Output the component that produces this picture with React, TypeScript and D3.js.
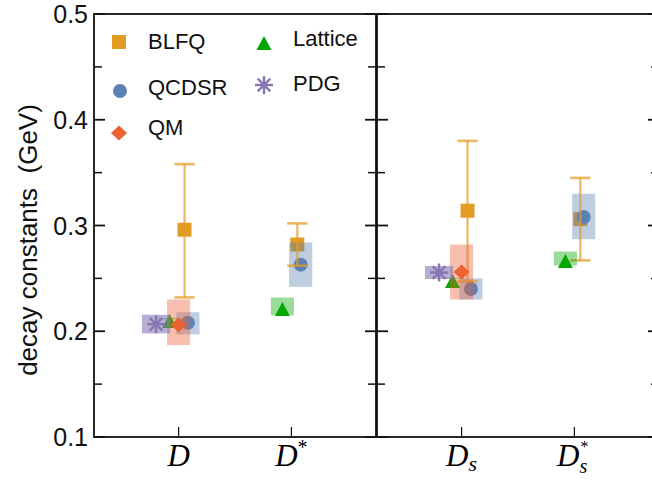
import React from "react";
import * as d3 from "d3";

// Meson categories, split over two panels
const categories = ["D", "D*", "Ds", "Ds*"];
const panelOf = [0, 0, 1, 1];
const slotOf = [0.3, 0.7, 0.3, 0.7];

// BLFQ: central value with error bars
const blfqValues = [0.296, 0.282, 0.314, 0.306];
const blfqLower = [0.232, 0.262, 0.247, 0.267];
const blfqUpper = [0.358, 0.302, 0.38, 0.345];

// QCD sum rules: value with uncertainty band
const qcdsrValues = [0.208, 0.263, 0.24, 0.308];
const qcdsrLower = [0.197, 0.242, 0.23, 0.287];
const qcdsrUpper = [0.218, 0.284, 0.25, 0.33];

// Quark model
const qmValues: (number | null)[] = [0.206, null, 0.256, null];
const qmLower: (number | null)[] = [0.187, null, 0.23, null];
const qmUpper: (number | null)[] = [0.23, null, 0.282, null];

// Lattice QCD
const latticeValues = [0.212, 0.2235, 0.2499, 0.2688];
const latticeLower = [0.2113, 0.2151, 0.2494, 0.2622];
const latticeUpper = [0.2127, 0.2319, 0.2504, 0.2754];

// PDG
const pdgValues: (number | null)[] = [0.2067, null, 0.2555, null];
const pdgLower: (number | null)[] = [0.198, null, 0.2494, null];
const pdgUpper: (number | null)[] = [0.2156, null, 0.2617, null];

const yTicks = [0.1, 0.2, 0.3, 0.4, 0.5];
const yMinorTicks = [0.15, 0.25, 0.35, 0.45];

const W = 652;
const H = 480;
const TOP = 14;
const BOTTOM = 437;
const PANEL_W = 282;
const panelX = [94, 377];

const colors = {
  blfq: "#E19C24",
  qcdsr: "#5E81B5",
  qm: "#EB6235",
  lattice: "#00A800",
  pdg: "#8778B3",
};

const y = d3.scaleLinear().domain([0.1, 0.5]).range([BOTTOM, TOP]);
const panelScales = panelX.map((x0) =>
  d3.scaleLinear().domain([0, 1]).range([x0, x0 + PANEL_W])
);
const xAt = (i: number, offset: number) =>
  panelScales[panelOf[i]](slotOf[i] + offset);
const unit = (u: number) => u * PANEL_W;

const OFF = { pdg: -0.08, lattice: -0.032, qm: 0, blfq: 0.021, qcdsr: 0.033 };
const BOX_W = 0.082;
const PDG_BOX_W = 0.1;
const CAP_W = 0.072;

const sans = "'Liberation Sans', Arial, Helvetica, sans-serif";
const serif = "'Liberation Serif', 'Times New Roman', serif";

function Square({ cx, cy, s = 14 }: { cx: number; cy: number; s?: number }) {
  return <rect x={cx - s / 2} y={cy - s / 2} width={s} height={s} fill={colors.blfq} />;
}
function Circle({ cx, cy }: { cx: number; cy: number }) {
  return <circle cx={cx} cy={cy} r={7} fill={colors.qcdsr} />;
}
function Diamond({ cx, cy }: { cx: number; cy: number }) {
  const p = d3.path();
  p.moveTo(cx, cy - 7.5);
  p.lineTo(cx + 8, cy);
  p.lineTo(cx, cy + 7.5);
  p.lineTo(cx - 8, cy);
  p.closePath();
  return <path d={p.toString()} fill={colors.qm} />;
}
function Triangle({ cx, cy }: { cx: number; cy: number }) {
  const c = cy + 2.5;
  const p = d3.path();
  p.moveTo(cx, c - 7);
  p.lineTo(cx + 7.5, c + 7);
  p.lineTo(cx - 7.5, c + 7);
  p.closePath();
  return <path d={p.toString()} fill={colors.lattice} />;
}
function Star({ cx, cy }: { cx: number; cy: number }) {
  const p = d3.path();
  const r = 9;
  for (let k = 0; k < 4; k++) {
    const a = (k * Math.PI) / 4;
    p.moveTo(cx + r * Math.sin(a), cy - r * Math.cos(a));
    p.lineTo(cx - r * Math.sin(a), cy + r * Math.cos(a));
  }
  return (
    <path d={p.toString()} stroke={colors.pdg} strokeWidth={2.4} fill="none" strokeLinecap="butt" />
  );
}

function Band({
  i, off, lo, hi, color, w = BOX_W, opacity = 0.4,
}: { i: number; off: number; lo: number; hi: number; color: string; w?: number; opacity?: number }) {
  const cx = xAt(i, off);
  const bw = unit(w);
  return (
    <rect x={cx - bw / 2} y={y(hi)} width={bw} height={Math.max(1, y(lo) - y(hi))} fill={color} fillOpacity={opacity} />
  );
}

function CategoryLabel({ i }: { i: number }) {
  const x = xAt(i, 0);
  const name = categories[i];
  const base = 466;
  if (name === "D") {
    return <text x={x} y={base} textAnchor="middle" fontFamily={serif} fontStyle="italic" fontSize={31}>D</text>;
  }
  if (name === "D*") {
    return (
      <text x={x} y={base} textAnchor="middle" fontFamily={serif} fontStyle="italic" fontSize={31}>
        D<tspan fontSize={20} dy={-12} fontStyle="normal">*</tspan>
      </text>
    );
  }
  if (name === "Ds") {
    return (
      <text x={x} y={base} textAnchor="middle" fontFamily={serif} fontStyle="italic" fontSize={31}>
        D<tspan fontSize={22} dy={5}>s</tspan>
      </text>
    );
  }
  // D_s^*: subscript s and superscript star stacked after the D
  return (
    <g fontFamily={serif} fontStyle="italic">
      <text x={x + 5} y={base} textAnchor="end" fontSize={31}>D</text>
      <text x={x + 5} y={base + 7} fontSize={20}>s</text>
      <text x={x + 6} y={base - 14} fontSize={16} fontStyle="normal">*</text>
    </g>
  );
}

function Frame({ p }: { p: number }) {
  const x0 = panelX[p];
  const x1 = x0 + PANEL_W;
  const cats = categories.map((_, i) => i).filter((i) => panelOf[i] === p);
  return (
    <g>
      <rect x={x0} y={TOP} width={PANEL_W} height={BOTTOM - TOP} fill="none" stroke="#111" strokeWidth={1.8} />
      {yTicks.map((t) => (
        <g key={"M" + t}>
          <line x1={x0} x2={x0 + 11} y1={y(t)} y2={y(t)} stroke="#111" strokeWidth={1.8} />
          <line x1={x1} x2={x1 - 11} y1={y(t)} y2={y(t)} stroke="#111" strokeWidth={1.8} />
        </g>
      ))}
      {yMinorTicks.map((t) => (
        <g key={"m" + t}>
          <line x1={x0} x2={x0 + 8} y1={y(t)} y2={y(t)} stroke="#111" strokeWidth={1.5} />
          <line x1={x1} x2={x1 - 8} y1={y(t)} y2={y(t)} stroke="#111" strokeWidth={1.5} />
        </g>
      ))}
      {cats.map((i) => (
        <line key={i} x1={xAt(i, 0)} x2={xAt(i, 0)} y1={BOTTOM} y2={BOTTOM - 10} stroke="#111" strokeWidth={1.2} />
      ))}
    </g>
  );
}

export default function App() {
  const idx = categories.map((_, i) => i);
  return (
    <svg width={W} height={H} viewBox={`0 0 ${W} ${H}`} style={{ position: "absolute", left: 0, top: 0, background: "#fff" }}>
      <rect width={W} height={H} fill="#fff" />

      {/* BLFQ squares */}
      {idx.map((i) => (
        <Square key={"bs" + i} cx={xAt(i, OFF.blfq)} cy={y(blfqValues[i])} />
      ))}

      {/* QCDSR bands and points */}
      {idx.map((i) => (
        <Band key={"qb" + i} i={i} off={OFF.qcdsr} lo={qcdsrLower[i]} hi={qcdsrUpper[i]} color={colors.qcdsr} />
      ))}
      {idx.map((i) => (
        <Circle key={"qc" + i} cx={xAt(i, OFF.qcdsr)} cy={y(qcdsrValues[i])} />
      ))}

      {/* BLFQ error bars */}
      {idx.map((i) => {
        const cx = xAt(i, OFF.blfq);
        const cw = unit(CAP_W) / 2;
        return (
          <g key={"be" + i} stroke={colors.blfq} strokeOpacity={0.72} strokeWidth={2.2}>
            <line x1={cx} x2={cx} y1={y(blfqUpper[i])} y2={y(blfqLower[i])} />
            <line x1={cx - cw} x2={cx + cw} y1={y(blfqUpper[i])} y2={y(blfqUpper[i])} strokeWidth={2.6} />
            <line x1={cx - cw} x2={cx + cw} y1={y(blfqLower[i])} y2={y(blfqLower[i])} strokeWidth={2.6} />
          </g>
        );
      })}

      {/* Lattice bands and points */}
      {idx.map((i) => (
        <Band key={"lb" + i} i={i} off={OFF.lattice} lo={latticeLower[i]} hi={latticeUpper[i]} color={colors.lattice} />
      ))}
      {idx.map((i) => (
        <Triangle key={"lt" + i} cx={xAt(i, OFF.lattice)} cy={y(latticeValues[i])} />
      ))}

      {/* Quark model bands and points */}
      {idx.map((i) =>
        qmValues[i] == null ? null : (
          <Band key={"mb" + i} i={i} off={OFF.qm} lo={qmLower[i] as number} hi={qmUpper[i] as number} color={colors.qm} />
        )
      )}
      {idx.map((i) =>
        qmValues[i] == null ? null : (
          <Diamond key={"md" + i} cx={xAt(i, OFF.qm)} cy={y(qmValues[i] as number)} />
        )
      )}

      {/* PDG bands and points */}
      {idx.map((i) =>
        pdgValues[i] == null ? null : (
          <Band key={"pb" + i} i={i} off={OFF.pdg} lo={pdgLower[i] as number} hi={pdgUpper[i] as number} color={colors.pdg} w={PDG_BOX_W} opacity={0.6} />
        )
      )}
      {idx.map((i) =>
        pdgValues[i] == null ? null : (
          <Star key={"ps" + i} cx={xAt(i, OFF.pdg)} cy={y(pdgValues[i] as number)} />
        )
      )}

      {/* Frames and ticks */}
      <Frame p={0} />
      <Frame p={1} />

      {/* Y tick labels */}
      {yTicks.map((t) => (
        <text key={t} x={88} y={y(t)} dy="0.36em" textAnchor="end" fontFamily={sans} fontSize={25} fill="#111">
          {d3.format(".1f")(t)}
        </text>
      ))}

      {/* Y axis title */}
      <text
        transform={`translate(37, 240) rotate(-90)`}
        textAnchor="middle"
        fontFamily={sans}
        fontSize={26}
        fill="#111"
        xmlSpace="preserve"
      >
        decay constants  (GeV)
      </text>

      {/* Category labels */}
      {idx.map((i) => (
        <CategoryLabel key={"cl" + i} i={i} />
      ))}

      {/* Legend */}
      <g fontFamily={sans} fontSize={22} fill="#111">
        <Square cx={119} cy={42} />
        <text x={148} y={49}>BLFQ</text>
        <Circle cx={120} cy={91} />
        <text x={148} y={95}>QCDSR</text>
        <Diamond cx={119} cy={133} />
        <text x={148} y={135}>QM</text>
        <Triangle cx={264} cy={40.5} />
        <text x={293} y={46}>Lattice</text>
        <Star cx={264} cy={85} />
        <text x={293} y={91}>PDG</text>
      </g>
    </svg>
  );
}
